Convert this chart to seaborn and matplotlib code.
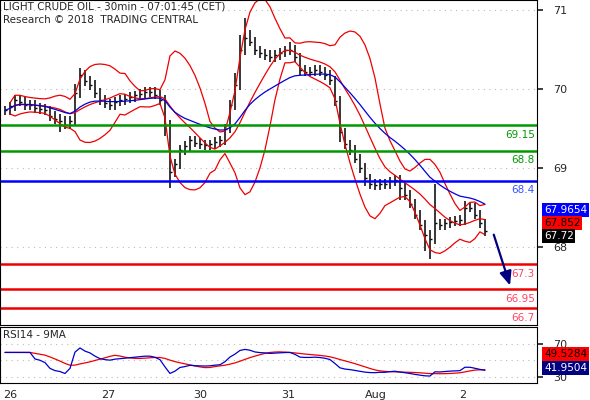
import matplotlib
matplotlib.use("Agg")
import matplotlib.pyplot as plt
import numpy as np
import pandas as pd
import seaborn as sns

# 30-min closes (price on chart axis), one per bar
closes = [69.73, 69.78, 69.86, 69.84, 69.80, 69.80, 69.76, 69.75, 69.73, 69.66,
          69.62, 69.60, 69.55, 69.60, 69.95, 70.18, 70.10, 70.05, 69.95, 69.86,
          69.82, 69.80, 69.84, 69.86, 69.88, 69.90, 69.92, 69.94, 69.96, 69.96,
          69.93, 69.86, 69.55, 68.95, 69.05, 69.23, 69.28, 69.35, 69.32, 69.30,
          69.29, 69.30, 69.33, 69.35, 69.50, 69.80, 70.05, 70.49, 70.65, 70.60,
          70.49, 70.45, 70.43, 70.40, 70.43, 70.46, 70.49, 70.50, 70.40, 70.24,
          70.22, 70.22, 70.24, 70.22, 70.18, 70.11, 69.85, 69.45, 69.30, 69.23,
          69.12, 69.00, 68.87, 68.80, 68.78, 68.80, 68.80, 68.83, 68.85, 68.75,
          68.66, 68.55, 68.41, 68.28, 68.15, 68.10, 68.30, 68.28, 68.30, 68.32,
          68.33, 68.34, 68.50, 68.50, 68.41, 68.30, 68.20]
wick_hi = [0.06] * 97
wick_lo = [0.06] * 97
for i, v in {14: 0.12, 15: 0.08, 46: 0.15, 47: 0.2, 48: 0.25, 49: 0.1, 57: 0.1, 86: 0.5, 92: 0.08}.items():
    wick_hi[i] = v
for i, v in {11: 0.15, 32: 0.15, 33: 0.2, 67: 0.12, 72: 0.1, 79: 0.15, 84: 0.2, 85: 0.25}.items():
    wick_lo[i] = v

day_pos = [1, 20.6, 39, 56.6, 74.2, 91.6]
day_labels = ["26", "27", "30", "31", "Aug", "2"]

levels = [69.54, 69.22, 68.84, 67.78, 67.47, 67.23]
level_labels = ["69.15", "68.8", "68.4", "67.3", "66.95", "66.7"]
level_colors = ["#009900", "#009900", "#0000ff", "#ee0000", "#ee0000", "#ee0000"]
label_colors = ["#009900", "#009900", "#3355ff", "#ff4466", "#ff4466", "#ff4466"]

price_ticks = [71, 70, 69, 68]
rsi_ticks = [70, 30]

sns.set_theme(style="white")
plt.rcParams["font.family"] = ["DejaVu Sans"]

s = pd.Series(closes)
opens = s.shift(1).fillna(s.iloc[0])
highs = np.maximum(opens, s) + np.array(wick_hi)
lows = np.minimum(opens, s) - np.array(wick_lo)
mid = s.rolling(10, min_periods=2).mean()
sd = s.rolling(10, min_periods=2).std().bfill()
upper, lower = mid + 2 * sd, mid - 2 * sd
blue_ma = s.ewm(span=22).mean()

delta = s.diff().fillna(0)
gain = delta.clip(lower=0).ewm(alpha=1 / 20).mean()
loss = (-delta.clip(upper=0)).ewm(alpha=1 / 20).mean()
rsi = (100 - 100 / (1 + gain / (loss + 1e-9))).where(lambda r: r.index > 3).bfill()
rsi = 50 + (rsi - 50) * 0.6
rsi_ma = rsi.rolling(9, min_periods=1).mean()

fig = plt.figure(figsize=(5.9, 4.0), dpi=100)
ax = fig.add_axes([0.0, 0.1875, 0.91, 0.8125])
ax2 = fig.add_axes([0.0, 0.0425, 0.91, 0.14])
x = np.arange(len(closes))

for a in (ax, ax2):
    a.set_xlim(-1, 106.4)
    for sp in a.spines.values():
        sp.set_color("black")
        sp.set_linewidth(0.8)
    a.yaxis.tick_right()
    a.tick_params(axis="y", direction="out", length=4, labelsize=8, pad=8)

ax.set_ylim(67.013, 71.127)
ax.set_yticks(price_ticks)
ax.set_xticks([])
for t in price_ticks:
    ax.axhline(t, color="#bbbbbb", ls=(0, (1, 4)), lw=0.8)

ax.vlines(x, lows, highs, color="black", lw=1.1)
ax.hlines(s, x, x + 0.4, color="black", lw=1)
sns.lineplot(x=x, y=upper, ax=ax, color="#ee0000", lw=0.9)
sns.lineplot(x=x, y=lower, ax=ax, color="#ee0000", lw=0.9)
sns.lineplot(x=x, y=mid, ax=ax, color="#ee0000", lw=0.9)
sns.lineplot(x=x, y=blue_ma, ax=ax, color="#0000dd", lw=0.9)

for lv, lb, c, lc in zip(levels, level_labels, level_colors, label_colors):
    ax.axhline(lv, color=c, lw=1.8)
    ax.text(106.0, lv - 0.06, lb, color=lc, ha="right", va="top", fontsize=7.5)

ax.annotate("", xy=(101.2, 67.48), xytext=(97.6, 68.19),
            arrowprops=dict(arrowstyle="-|>,head_width=0.3,head_length=0.7", color="#000080", lw=1.6))

ax.text(0.005, 0.995, "LIGHT CRUDE OIL - 30min - 07:01:45 (CET)", transform=ax.transAxes,
        fontsize=7.5, va="top")
ax.text(0.005, 0.955, "Research \u00a9 2018  TRADING CENTRAL", transform=ax.transAxes,
        fontsize=7.5, va="top")

ax2.set_ylim(22, 91)
ax2.set_yticks(rsi_ticks)
for t in [70, 50, 30]:
    ax2.axhline(t, color="#bbbbbb", ls=(0, (1, 4)), lw=0.8)
sns.lineplot(x=x, y=rsi_ma, ax=ax2, color="#ee0000", lw=0.9)
sns.lineplot(x=x, y=rsi, ax=ax2, color="#0000cc", lw=0.9)
ax2.text(0.005, 0.95, "RSI14 - 9MA", transform=ax2.transAxes, fontsize=7.5, va="top")
ax2.set_xticks(day_pos)
ax2.set_xticklabels(day_labels)
ax2.tick_params(axis="x", direction="out", length=4, labelsize=8, pad=1)
ax.set_ylabel("")
ax2.set_ylabel("")

def box(yfig, text, bg, fg):
    fig.text(0.922, yfig, text, fontsize=7.5, color=fg, va="center", ha="left",
             bbox=dict(boxstyle="square,pad=0.15", fc=bg, ec="none"))

box(1 - 210 / 400, "67.9654", "#0000ff", "white")
box(1 - 223 / 400, "67.852", "#ff0000", "black")
box(1 - 236 / 400, "67.72", "black", "white")
box(1 - 354 / 400, "49.5284", "#ff0000", "black")
box(1 - 368 / 400, "41.9504", "#000080", "white")

fig.savefig("out.png", dpi=100)
